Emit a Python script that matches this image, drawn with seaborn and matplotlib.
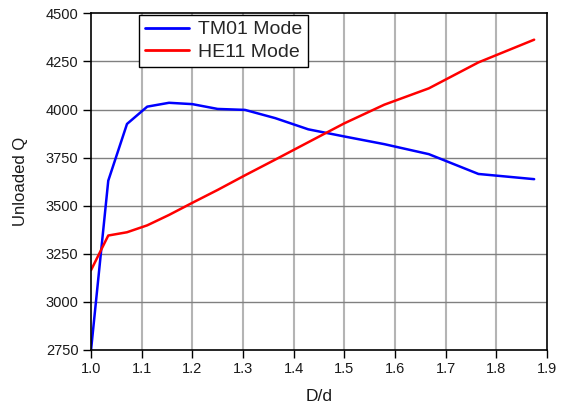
import numpy as np
import pandas as pd
import matplotlib
matplotlib.use("Agg")
import matplotlib.pyplot as plt
import seaborn as sns

# Diameter ratio D/d
ratio = [1.0, 1.034, 1.071, 1.111, 1.154, 1.2, 1.25, 1.304, 1.364, 1.429,
         1.5, 1.579, 1.667, 1.765, 1.875]
# Unloaded Q for each mode
q_tm01 = [2750, 3630, 3925, 4015, 4035, 4028, 4003, 3998, 3955, 3897,
          3860, 3820, 3768, 3665, 3638]
q_he11 = [3165, 3345, 3362, 3398, 3452, 3515, 3582, 3658, 3740, 3830,
          3928, 4025, 4110, 4245, 4363]
modes = ["TM01 Mode", "HE11 Mode"]
x_ticks = [1.0, 1.1, 1.2, 1.3, 1.4, 1.5, 1.6, 1.7, 1.8, 1.9]
y_ticks = [2750, 3000, 3250, 3500, 3750, 4000, 4250, 4500]

df = pd.DataFrame({
    "D/d": ratio + ratio,
    "Unloaded Q": q_tm01 + q_he11,
    "mode": [modes[0]] * len(ratio) + [modes[1]] * len(ratio),
})

sns.set_theme(style="white")
plt.rcParams["font.family"] = ["Liberation Sans", "DejaVu Sans"]

fig = plt.figure(figsize=(5.69, 4.04), dpi=100)
ax = fig.add_axes([0.16, 0.1337, 0.801, 0.8333])

sns.lineplot(data=df, x="D/d", y="Unloaded Q", hue="mode",
             palette=["#0000ff", "#ff0000"], linewidth=1.8, ax=ax,
             sort=False, estimator=None)

ax.set_xlim(1.0, 1.9)
ax.set_ylim(2750, 4500)
ax.set_xticks(x_ticks)
ax.set_xticklabels([f"{t:.1f}" for t in x_ticks])
ax.set_yticks(y_ticks)
ax.set_yticklabels([str(t) for t in y_ticks])

# Grid: light vertical, darker horizontal
for t in x_ticks[1:-1]:
    ax.axvline(t, color="#b4b4b4", linewidth=1.5, zorder=0)
for t in y_ticks[1:-1]:
    ax.axhline(t, color="#808080", linewidth=1.0, zorder=0)

for s in ax.spines.values():
    s.set_color("black")
    s.set_linewidth(1.2)
    s.set_visible(True)

ax.tick_params(axis="both", direction="out", length=6, width=1.0,
               color="black", labelsize=10.5, labelcolor="#1a1a1a",
               bottom=True, left=True, pad=3)
ax.set_xlabel("D/d", fontsize=12.5, color="#1a1a1a", labelpad=9)
ax.set_ylabel("Unloaded Q", fontsize=12, color="#1a1a1a", labelpad=13)

leg = ax.legend(loc="upper left", bbox_to_anchor=(0.105, 0.995),
                fontsize=14, frameon=True, fancybox=False,
                edgecolor="black", framealpha=1, borderpad=0.3,
                handlelength=2.3, handletextpad=0.45, labelspacing=0.25,
                borderaxespad=0.0, title=None)
leg.get_frame().set_linewidth(1.0)
for line in leg.get_lines():
    line.set_linewidth(2.0)

fig.savefig("out.png", dpi=100)
